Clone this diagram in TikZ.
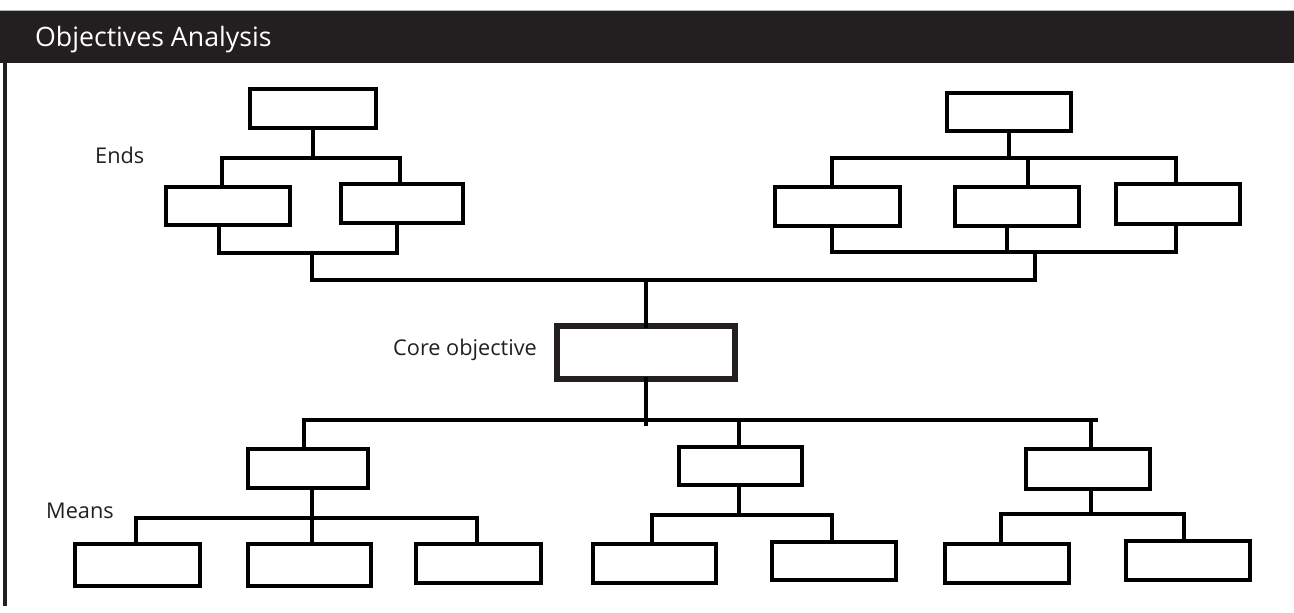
\documentclass[tikz,border=0pt]{standalone}
\usepackage{fontspec}
\setmainfont{Open Sans}
\usetikzlibrary{fit}
\definecolor{ink}{HTML}{231F20}
\tikzset{
  box/.style={draw=black, line width=3.8pt, rectangle, inner sep=0pt, outer sep=0pt},
  corebox/.style={draw=ink, line width=5.5pt, rectangle, inner sep=0pt, outer sep=0pt},
  conn/.style={draw=black, line width=3.2pt, line cap=rect},
  lbl/.style={anchor=base west, inner sep=0pt, text=ink, font=\fontsize{21.7}{26}\selectfont},
}
\newcommand{\mybox}[6][box]{\node[#1, fit={(#3+2,#4+2) (#5-2,#6-2)}] (#2) {};}
\begin{document}
\begin{tikzpicture}[x=1pt,y=-1pt]
\useasboundingbox (0,0) rectangle (1294,613);
% header
\fill[ink] (0,10) rectangle (1294,63);
\draw[gray!60, line width=0.8pt] (0,10.4) -- (1294,10.4);
\node[anchor=base west, inner sep=0pt, text=white, font=\fontsize{26.7}{32}\selectfont] (title) at (35,46.5) {Objectives Analysis};
\draw[ink, line width=3.3pt] (5,63) -- (5,606);
% labels
\node[lbl] (ends) at (95,163) {Ends};
\node[lbl] (corelbl) at (393,355) {Core objective};
\node[lbl] (means) at (46,518) {Means};
% boxes: ends
\mybox{T1}{248}{87}{378}{130}
\mybox{A1}{164}{185}{292}{227}
\mybox{A2}{339}{182}{465}{225}
\mybox{T2}{945}{91}{1073}{133}
\mybox{B1}{773}{185}{902}{228}
\mybox{B2}{953}{185}{1081}{228}
\mybox{B3}{1114}{182}{1242}{226}
% core
\mybox[corebox]{C}{555}{324}{737}{381}
% means
\mybox{M1}{246}{447}{370}{490}
\mybox{M2}{677}{445}{804}{487}
\mybox{M3}{1024}{447}{1152}{491}
\mybox{P1}{73}{542}{202}{588}
\mybox{P2}{246}{542}{373}{588}
\mybox{P3}{414}{542}{543}{585}
\mybox{P4}{591}{542}{718}{585}
\mybox{P5}{770}{540}{898}{582}
\mybox{P6}{943}{542}{1071}{585}
\mybox{P7}{1124}{539}{1252}{582}
% coordinates
\coordinate (tlL) at (222,158); \coordinate (tlR) at (400,158);
\coordinate (blL) at (219,253); \coordinate (blR) at (397,253); \coordinate (blM) at (312,253);
\coordinate (trL) at (832,158); \coordinate (trM) at (1028,158); \coordinate (trR) at (1176,158);
\coordinate (brL) at (832,252); \coordinate (brM2) at (1007,252); \coordinate (brR) at (1176,252); \coordinate (brM) at (1035,252);
\coordinate (mainL) at (312,280); \coordinate (mainR) at (1035,280);
\coordinate (cEnd) at (646,424);
\coordinate (mL) at (304,420); \coordinate (mR) at (1096,420);
\coordinate (m2) at (739,420); \coordinate (m3) at (1091,420);
\coordinate (g1L) at (136,518); \coordinate (g1M) at (312,518); \coordinate (g1R) at (477,518);
\coordinate (g2L) at (652,515); \coordinate (g2M) at (739,515); \coordinate (g2R) at (832,515);
\coordinate (g3L) at (1001,514); \coordinate (g3M) at (1091,514); \coordinate (g3R) at (1184,514);
% top-left connectors
\draw[conn] (T1.south) -- (T1.south |- tlL);
\draw[conn] (tlL) -- (tlR);
\draw[conn] (tlL) -- (tlL |- A1.north);
\draw[conn] (tlR) -- (tlR |- A2.north);
\draw[conn] (blL |- A1.south) -- (blL) -- (blR) -- (blR |- A2.south);
\draw[conn] (blM) -- (mainL) -- (mainR) -- (brM);
% top-right connectors
\draw[conn] (T2.south) -- (T2.south |- trL);
\draw[conn] (trL) -- (trR);
\draw[conn] (trL) -- (trL |- B1.north);
\draw[conn] (trM) -- (trM |- B2.north);
\draw[conn] (trR) -- (trR |- B3.north);
\draw[conn] (brL |- B1.south) -- (brL) -- (brR) -- (brR |- B3.south);
\draw[conn] (brM2 |- B2.south) -- (brM2);
% core connectors
\draw[conn] (C.north) -- (C.north |- mainL);
\draw[conn] (C.south) -- (C.south |- cEnd);
\draw[conn] (mL) -- (mR);
\draw[conn] (mL) -- (mL |- M1.north);
\draw[conn] (m2) -- (m2 |- M2.north);
\draw[conn] (m3) -- (m3 |- M3.north);
% means groups
\draw[conn] (g1M |- M1.south) -- (g1M);
\draw[conn] (g1L) -- (g1R);
\draw[conn] (g1L) -- (g1L |- P1.north);
\draw[conn] (g1M) -- (g1M |- P2.north);
\draw[conn] (g1R) -- (g1R |- P3.north);
\draw[conn] (g2M |- M2.south) -- (g2M);
\draw[conn] (g2L) -- (g2R);
\draw[conn] (g2L) -- (g2L |- P4.north);
\draw[conn] (g2R) -- (g2R |- P5.north);
\draw[conn] (g3M |- M3.south) -- (g3M);
\draw[conn] (g3L) -- (g3R);
\draw[conn] (g3L) -- (g3L |- P6.north);
\draw[conn] (g3R) -- (g3R |- P7.north);
\end{tikzpicture}
\end{document}
